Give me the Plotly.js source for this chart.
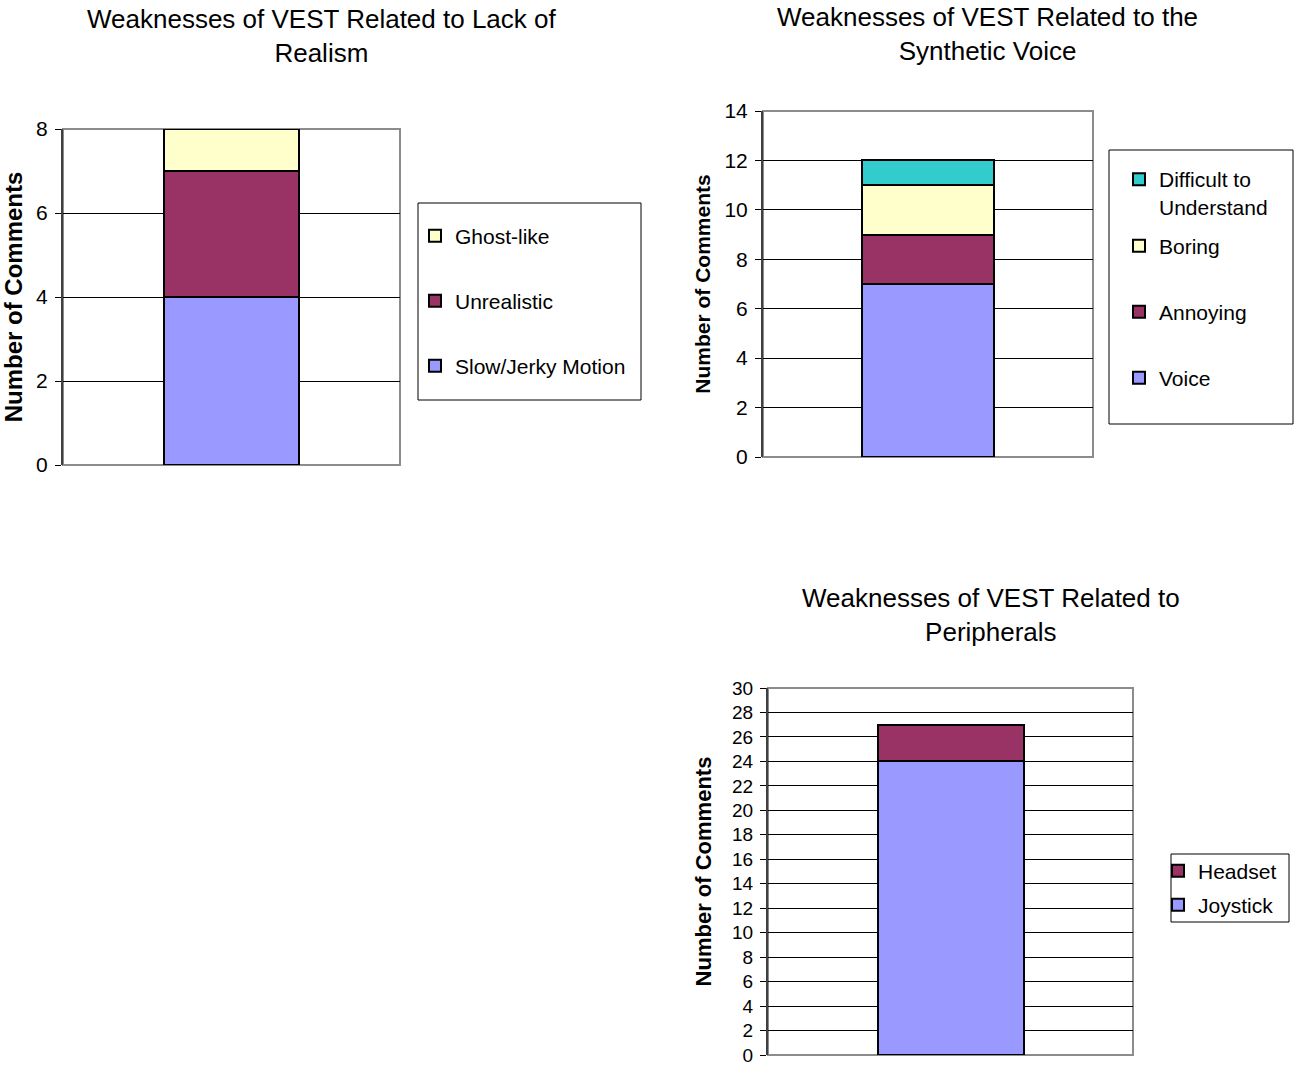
<!DOCTYPE html>
<html>
<head>
<meta charset="utf-8">
<script src="https://cdn.plot.ly/plotly-3.0.1.min.js"></script>
<style>
  html, body { margin: 0; padding: 0; background: #ffffff; }
  #chart { width: 1294px; height: 1067px; }
</style>
</head>
<body>
<div id="chart"></div>
<script>
// ---- data ----------------------------------------------------------------
const realismCategory = ['Lack of Realism'];
const realismSeries = ['Slow/Jerky Motion', 'Unrealistic', 'Ghost-like'];
const realismValues = [4, 3, 1];

const voiceCategory = ['Synthetic Voice'];
const voiceSeries = ['Voice', 'Annoying', 'Boring', 'Difficult to<br>Understand'];
const voiceValues = [7, 2, 2, 1];

const peripheralCategory = ['Peripherals'];
const peripheralSeries = ['Joystick', 'Headset'];
const peripheralValues = [24, 3];

const chartTitles = [
  'Weaknesses of VEST Related to Lack of<br>Realism',
  'Weaknesses of VEST Related to the<br>Synthetic Voice',
  'Weaknesses of VEST Related to<br>Peripherals'
];
const yTitle = 'Number of Comments';

// ---- styling ---------------------------------------------------------------
const W = 1294, H = 1067;
const px = v => v / W;           // pixel column -> paper x
const py = v => 1 - v / H;       // pixel row    -> paper y
const FONT = 'Liberation Sans, Arial, Helvetica, sans-serif';
const colors = {
  periwinkle: '#9999FF',
  plum: '#993366',
  cream: '#FFFFCC',
  teal: '#33CCCC'
};
const realismColors = [colors.periwinkle, colors.plum, colors.cream];
const voiceColors = [colors.periwinkle, colors.plum, colors.cream, colors.teal];
const peripheralColors = [colors.periwinkle, colors.plum];

// legend entry placement: [text-left px, centre-row px]
const realismLegendPos = [[455, 366], [455, 301], [455, 236]];
const voiceLegendPos = [[1159, 378], [1159, 312], [1159, 246], [1159, 193]];
const peripheralLegendPos = [[1198, 905], [1198, 871]];

const traces = [];
const legends = {};
let legendCount = 0;

function addStack(category, names, values, cols, axisSuffix, positions) {
  names.forEach((name, i) => {
    legendCount += 1;
    const legendId = legendCount === 1 ? 'legend' : 'legend' + legendCount;
    traces.push({
      type: 'bar',
      x: category,
      y: [values[i]],
      name: name,
      xaxis: 'x' + axisSuffix,
      yaxis: 'y' + axisSuffix,
      legend: legendId,
      marker: { color: cols[i], line: { color: '#000000', width: 2 } },
      hoverinfo: 'name+y'
    });
    const multiLine = name.indexOf('<br>') >= 0;
    legends[legendId] = {
      x: px(positions[i][0] - 40),
      y: py(positions[i][1]),
      xanchor: 'left',
      yanchor: 'middle',
      bgcolor: 'rgba(0,0,0,0)',
      borderwidth: 0,
      valign: multiLine ? 'top' : 'middle',
      font: { family: FONT, size: 21, color: '#000000' }
    };
  });
}

addStack(realismCategory, realismSeries, realismValues, realismColors, '', realismLegendPos);
addStack(voiceCategory, voiceSeries, voiceValues, voiceColors, '2', voiceLegendPos);
addStack(peripheralCategory, peripheralSeries, peripheralValues, peripheralColors, '3', peripheralLegendPos);

function xAxis(domain) {
  return {
    domain: domain,
    type: 'category',
    range: [-0.5, 0.5],
    showticklabels: false,
    ticks: '',
    showgrid: false,
    zeroline: false,
    showline: false,
    fixedrange: true
  };
}

function yAxis(domain, top, tickSize, titleSize, standoff) {
  return {
    domain: domain,
    range: [0, top],
    dtick: 2,
    tick0: 0,
    ticks: 'outside',
    ticklen: 6,
    tickwidth: 1,
    tickcolor: '#000000',
    showline: true,
    linecolor: '#404040',
    linewidth: 2,
    showgrid: true,
    gridcolor: '#000000',
    gridwidth: 1,
    zeroline: false,
    automargin: false,
    ticklabelstandoff: 3,
    ticklabeloverflow: 'allow',
    tickfont: { family: FONT, size: tickSize, color: '#000000' },
    title: {
      text: yTitle,
      standoff: standoff,
      font: { family: FONT, size: titleSize, color: '#000000', weight: 'bold' }
    },
    fixedrange: true
  };
}

// subplot frames (pixel boxes converted to paper fractions)
const frame1 = { x: [63, 400], y: [465, 129] };
const frame2 = { x: [763, 1093], y: [457, 111] };
const frame3 = { x: [768, 1133], y: [1055, 688] };

function plotBorder(xref, yref) {
  return {
    type: 'rect', xref: xref, yref: yref,
    x0: 0, x1: 1, y0: 0, y1: 1,
    line: { color: '#8c8c8c', width: 2 },
    fillcolor: 'rgba(0,0,0,0)',
    layer: 'below'
  };
}

function legendBox(x0, x1, y0, y1) {
  return {
    type: 'rect', xref: 'paper', yref: 'paper',
    x0: px(x0), x1: px(x1), y0: py(y1), y1: py(y0),
    line: { color: '#000000', width: 1 },
    fillcolor: 'rgba(0,0,0,0)'
  };
}

function titleNote(text, cx, cy) {
  return {
    text: text, xref: 'paper', yref: 'paper',
    x: px(cx), y: py(cy), xanchor: 'center', yanchor: 'middle',
    showarrow: false, align: 'center',
    font: { family: FONT, size: 26, color: '#000000' }
  };
}

const layout = Object.assign({
  width: W,
  height: H,
  margin: { l: 0, r: 0, t: 0, b: 0 },
  paper_bgcolor: '#ffffff',
  plot_bgcolor: 'rgba(0,0,0,0)',
  barmode: 'stack',
  bargap: 0.6,
  showlegend: true,
  font: { family: FONT, color: '#000000' },
  xaxis: xAxis([px(frame1.x[0]), px(frame1.x[1])]),
  yaxis: Object.assign(yAxis([py(frame1.y[0]), py(frame1.y[1])], 8, 21, 24, 9), { anchor: 'x' }),
  xaxis2: Object.assign(xAxis([px(frame2.x[0]), px(frame2.x[1])]), { anchor: 'y2' }),
  yaxis2: Object.assign(yAxis([py(frame2.y[0]), py(frame2.y[1])], 14, 21, 21, 8), { anchor: 'x2' }),
  xaxis3: Object.assign(xAxis([px(frame3.x[0]), px(frame3.x[1])]), { anchor: 'y3' }),
  yaxis3: Object.assign(yAxis([py(frame3.y[0]), py(frame3.y[1])], 30, 19, 22, 14), { anchor: 'x3' }),
  shapes: [
    plotBorder('x domain', 'y domain'),
    plotBorder('x2 domain', 'y2 domain'),
    plotBorder('x3 domain', 'y3 domain'),
    legendBox(418, 641, 203, 400),
    legendBox(1109, 1293, 150, 424),
    legendBox(1171, 1289, 854, 922)
  ],
  annotations: [
    titleNote(chartTitles[0], 322, 36),
    titleNote(chartTitles[1], 987, 34),
    titleNote(chartTitles[2], 991, 615)
  ]
}, legends);

Plotly.newPlot('chart', traces, layout, { displayModeBar: false, staticPlot: true });
</script>
</body>
</html>
